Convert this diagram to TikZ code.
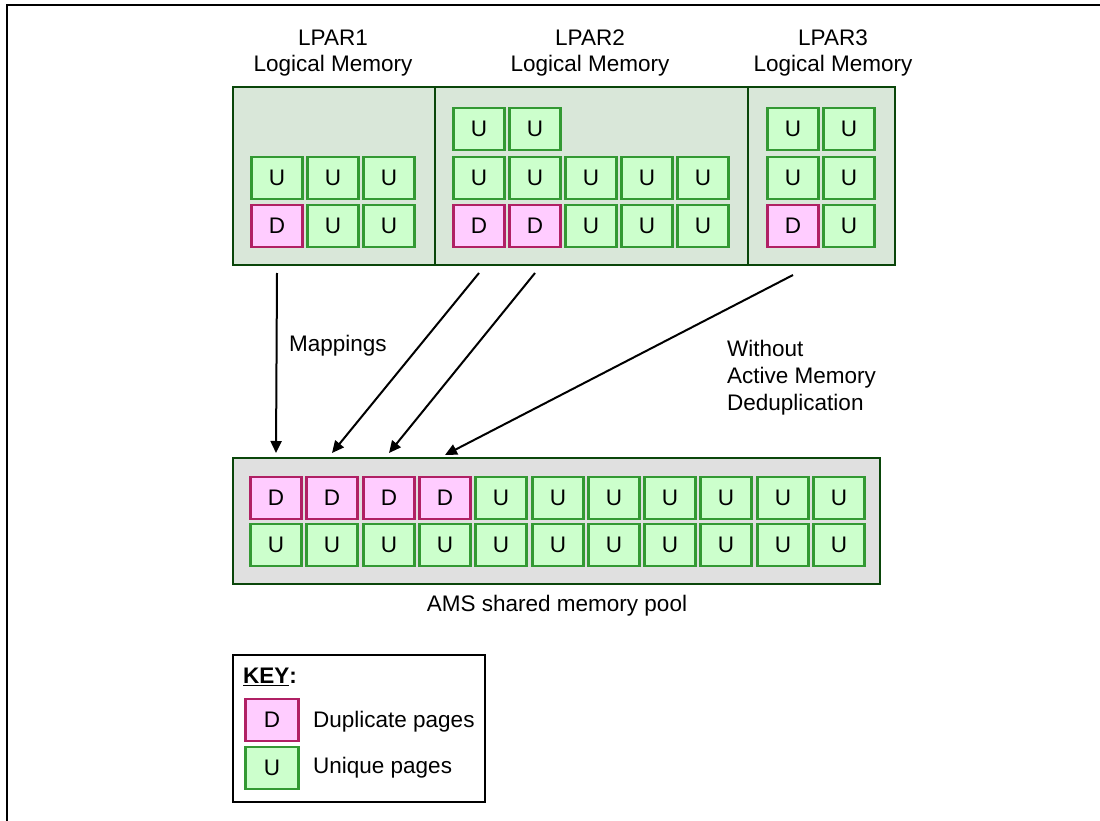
\documentclass[tikz,border=0pt]{standalone}
\usepackage{fontspec}
\setmainfont{Liberation Sans}
\usetikzlibrary{arrows.meta}

\definecolor{lparfill}{RGB}{217,231,217}
\definecolor{poolfill}{RGB}{224,224,224}
\definecolor{boxline}{RGB}{10,70,10}
\definecolor{ufill}{RGB}{204,255,204}
\definecolor{uline}{RGB}{51,153,51}
\definecolor{dfill}{RGB}{255,204,255}
\definecolor{dline}{RGB}{176,32,100}

\tikzset{
  page/.style={minimum width=51pt, minimum height=42pt, line width=2.5pt, inner sep=0pt},
  upage/.style={page, draw=uline, fill=ufill},
  dpage/.style={page, draw=dline, fill=dfill},
  maparrow/.style={line width=2pt, -{Triangle[length=12pt,width=11pt]}},
  memarea/.style={line width=2.7pt, draw=boxline},
}

\begin{document}
\begin{tikzpicture}[x=1pt, y=-1pt, font=\fontsize{22.5}{26}\selectfont]
    \useasboundingbox (0,0) rectangle (1100,821);
    % frame
    \draw[line width=2pt] (7,821) -- (7,5) -- (1100,5);
    % logical memory of the three LPARs
    \draw[memarea, fill=lparfill] (233,87) rectangle (895,265);
    \draw[memarea] (435,87) -- (435,265);
    \draw[memarea] (748,87) -- (748,265);
    \node[align=center] (t1) at (333,53) {LPAR1\\Logical Memory};
    \node[align=center] (t2) at (590,53) {LPAR2\\Logical Memory};
    \node[align=center] (t3) at (833,53) {LPAR3\\Logical Memory};
    % LPAR1 pages
    \node[upage] (l1a) at (277,178) {U};
    \node[upage] (l1b) at (333,178) {U};
    \node[upage] (l1c) at (389,178) {U};
    \node[dpage] (l1d) at (277,226) {D};
    \node[upage] (l1e) at (333,226) {U};
    \node[upage] (l1f) at (389,226) {U};
    % LPAR2 pages
    \node[upage] (l2a) at (479,129) {U};
    \node[upage] (l2b) at (535,129) {U};
    \node[upage] (l2c) at (479,178) {U};
    \node[upage] (l2d) at (535,178) {U};
    \node[upage] (l2e) at (591,178) {U};
    \node[upage] (l2f) at (647,178) {U};
    \node[upage] (l2g) at (703,178) {U};
    \node[dpage] (l2h) at (479,226) {D};
    \node[dpage] (l2i) at (535,226) {D};
    \node[upage] (l2j) at (591,226) {U};
    \node[upage] (l2k) at (647,226) {U};
    \node[upage] (l2l) at (703,226) {U};
    % LPAR3 pages
    \node[upage] (l3a) at (793,129) {U};
    \node[upage] (l3b) at (849,129) {U};
    \node[upage] (l3c) at (793,178) {U};
    \node[upage] (l3d) at (849,178) {U};
    \node[dpage] (l3e) at (793,226) {D};
    \node[upage] (l3f) at (849,226) {U};
    % shared memory pool
    \draw[memarea, line width=2.2pt, fill=poolfill] (233,458) rectangle (880,584);
    \node (pool) at (557,606) {AMS shared memory pool};
    \node[dpage] (p1) at (276,498) {D};
    \node[dpage] (p2) at (332,498) {D};
    \node[dpage] (p3) at (389,498) {D};
    \node[dpage] (p4) at (445,498) {D};
    \node[upage] (p5) at (501,498) {U};
    \node[upage] (p6) at (558,498) {U};
    \node[upage] (p7) at (614,498) {U};
    \node[upage] (p8) at (670,498) {U};
    \node[upage] (p9) at (726,498) {U};
    \node[upage] (p10) at (783,498) {U};
    \node[upage] (p11) at (839,498) {U};
    \node[upage] (q1) at (276,545) {U};
    \node[upage] (q2) at (332,545) {U};
    \node[upage] (q3) at (389,545) {U};
    \node[upage] (q4) at (445,545) {U};
    \node[upage] (q5) at (501,545) {U};
    \node[upage] (q6) at (558,545) {U};
    \node[upage] (q7) at (614,545) {U};
    \node[upage] (q8) at (670,545) {U};
    \node[upage] (q9) at (726,545) {U};
    \node[upage] (q10) at (783,545) {U};
    \node[upage] (q11) at (839,545) {U};
    % mappings
    \coordinate (a1s) at ([yshift=-47pt]l1d.center);
    \coordinate (a2s) at ([yshift=-47pt]l2h.center);
    \coordinate (a3s) at ([yshift=-47pt]l2i.center);
    \coordinate (a4s) at ([yshift=-49pt]l3e.center);
    \coordinate (a1e) at ([yshift=45pt]p1.center);
    \coordinate (a2e) at ([yshift=45pt]p2.center);
    \coordinate (a3e) at ([yshift=45pt]p3.center);
    \coordinate (a4e) at ([yshift=43pt]p4.center);
    \draw[maparrow] (a1s) -- (a1e);
    \draw[maparrow] (a2s) -- (a2e);
    \draw[maparrow] (a3s) -- (a3e);
    \draw[maparrow] (a4s) -- (a4e);
    \node[anchor=west, inner sep=0pt] (map) at (289,346) {Mappings};
    \node[anchor=west, inner sep=0pt, align=left, font=\fontsize{22.5}{27}\selectfont] (noamd) at (727,378) {Without\\Active Memory\\Deduplication};
    % key
    \draw[line width=1.2pt] (233,655) rectangle (485,802);
    \node[anchor=west, inner sep=0pt, font=\fontsize{22.5}{26}\selectfont\bfseries] (key) at (243,677) {\underline{KEY}:};
    \node[dpage, minimum width=53pt] (kd) at (272,720) {D};
    \node[upage, minimum width=53pt] (ku) at (272,768) {U};
    \node[anchor=west, inner sep=0pt] (kdt) at (313,722) {Duplicate pages};
    \node[anchor=west, inner sep=0pt] (kut) at (313,768) {Unique pages};
\end{tikzpicture}
\end{document}
